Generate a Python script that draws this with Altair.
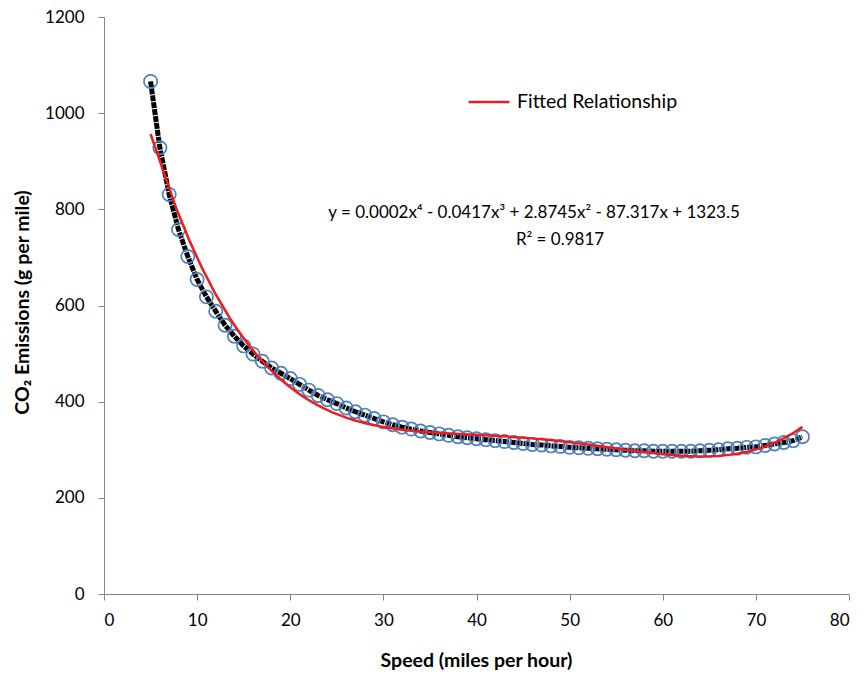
import altair as alt
import pandas as pd

speed = list(range(5, 76))
co2 = [1066, 928, 831, 758, 702, 654, 618, 588, 559, 536,
       516, 499, 484, 470, 459, 448, 436, 424, 413, 404,
       396, 387, 379, 372, 365, 358, 352, 347, 343, 339,
       336, 333, 330, 327, 325, 323, 321, 319, 317, 315,
       313, 311, 310, 308, 307, 305, 304, 303, 302, 301,
       300, 299, 298, 298, 297, 297, 297, 297, 297, 298,
       299, 300, 302, 303, 305, 306, 309, 312, 315, 319, 327]

x_ticks = [0, 10, 20, 30, 40, 50, 60, 70, 80]
y_ticks = [0, 200, 400, 600, 800, 1000, 1200]
fit_label = "Fitted Relationship"
eq_line1 = "y = 0.0002x\u2074 - 0.0417x\u00b3 + 2.8745x\u00b2 - 87.317x + 1323.5"
eq_line2 = "R\u00b2 = 0.9817"

df = pd.DataFrame({"speed": speed, "co2": co2})

FONT = "Lato"

xenc = alt.X("speed:Q", scale=alt.Scale(domain=[0, 80], nice=False),
             axis=alt.Axis(values=x_ticks, title="Speed (miles per hour)",
                           titleX=372, titleY=66, titleBaseline="middle"))
yenc = alt.Y("co2:Q", scale=alt.Scale(domain=[0, 1200], nice=False),
             axis=alt.Axis(values=y_ticks, format="d", title="CO\u2082 Emissions (g per mile)",
                           titleX=-82, titleY=285, titleBaseline="middle",
                           titleAlign="center", titleAngle=-90))

base = alt.Chart(df)

line = base.mark_line(color="black", strokeWidth=5, strokeDash=[6, 1]).encode(x=xenc, y=yenc)
pts = base.mark_point(shape="circle", size=175, filled=False, stroke="#4f7fbd",
                      strokeWidth=1.7, opacity=1).encode(x="speed:Q", y="co2:Q")

fit = base.transform_regression("speed", "co2", method="poly", order=4, extent=[5, 75]).transform_calculate(
    series=f"'{fit_label}'"
).mark_line(strokeWidth=2.5).encode(
    x="speed:Q", y="co2:Q",
    color=alt.Color("series:N", scale=alt.Scale(domain=[fit_label], range=["#ee1c1c"]),
                    legend=alt.Legend(title=None, orient="none", legendX=363, legendY=63,
                                      symbolType="stroke", symbolSize=1681, symbolStrokeWidth=2.5,
                                      labelFontSize=19.5, labelFont=FONT, labelColor="#000",
                                      labelLimit=400, padding=0, labelOffset=6))
)

eq_df = pd.DataFrame({"t": [eq_line1]})
eq1 = alt.Chart(eq_df).mark_text(fontSize=17, font=FONT, color="#000", align="center", baseline="middle").encode(
    x=alt.value(430), y=alt.value(196), text="t:N")
eq_df2 = pd.DataFrame({"t": [eq_line2]})
eq2 = alt.Chart(eq_df2).mark_text(fontSize=17, font=FONT, color="#000", align="center", baseline="middle").encode(
    x=alt.value(456), y=alt.value(223), text="t:N")

chart = alt.layer(line, pts, fit, eq1, eq2).properties(
    width=745, height=577,
    autosize=alt.AutoSizeParams(type="none"),
    padding={"left": 104, "top": 17, "right": 18, "bottom": 81},
).configure_view(stroke=None).configure_axis(
    grid=False, domainColor="#868686", tickColor="#868686", tickSize=6,
    labelFont=FONT, labelFontSize=17, labelColor="#000", labelPadding=12,
    titleFont=FONT, titleFontSize=19.5, titleFontWeight="bold", titleColor="#000",
).configure_axisY(labelPadding=14)

chart.save("out.html", embed_options={"renderer": "svg", "actions": False})
